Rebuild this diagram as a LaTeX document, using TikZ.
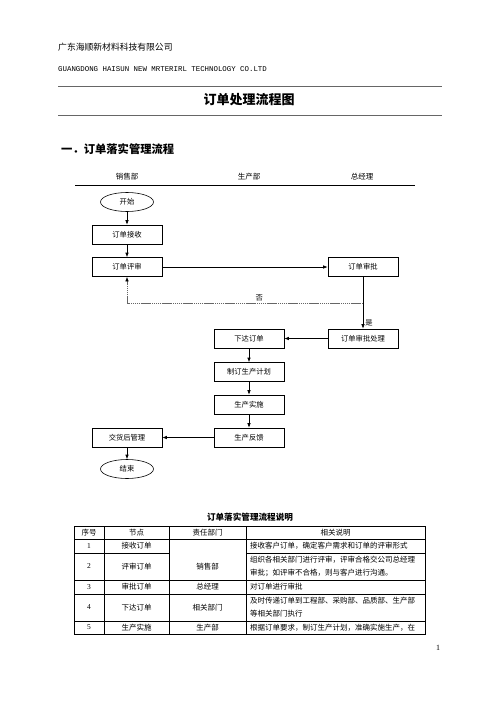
\documentclass[tikz,border=0pt]{standalone}
\usepackage{fontspec}
\setmainfont{Noto Sans CJK SC}
\newfontfamily\serifnum{Liberation Serif}
\newfontfamily\monolatin{Liberation Mono}
\usepackage{tikz}
\usetikzlibrary{arrows.meta,shapes.geometric}
\tikzset{
  box/.style={draw, line width=0.6pt, minimum width=70pt, minimum height=19pt,
    inner sep=0pt, font=\fontsize{7.3}{8}\selectfont},
  term/.style={draw, ellipse, line width=0.6pt, minimum width=53pt,
    minimum height=19pt, inner sep=0pt, font=\fontsize{7.3}{8}\selectfont},
  flow/.style={-{Latex[length=4.5pt,width=3.5pt]}, line width=0.6pt},
  backflow/.style={-{Latex[length=4.5pt,width=3.5pt,black]}, line width=0.6pt,
    black!60, dash pattern=on 1.5pt off 0.6pt},
  cell/.style={inner sep=0pt, font=\fontsize{7.5}{13}\selectfont}
}

\begin{document}
\begin{tikzpicture}[x=1pt,y=-1pt]
    \fill[white] (0,0) rectangle (500,707);
    \useasboundingbox (0,0) rectangle (500,707);

    %page header
    \node[anchor=west, inner sep=0pt, font=\fontsize{8.8}{10}\selectfont] (company) at (58,47) {广东海顺新材料科技有限公司};
    \node[anchor=west, inner sep=0pt, font=\monolatin\fontsize{7.4}{9}\selectfont] (companyen) at (58,69) {GUANGDONG HAISUN NEW MRTERIRL TECHNOLOGY CO.LTD};
    \draw[line width=0.8pt, black!60] (58,86) -- (442,86);
    \node[font=\bfseries\fontsize{13}{15}\selectfont] (title) at (249,100) {订单处理流程图};
    \draw[line width=0.8pt, black!60] (58,115) -- (442,115);

    %section heading
    \node[anchor=west, inner sep=0pt, font=\bfseries\fontsize{11.3}{13}\selectfont] (section) at (61,149) {一．订单落实管理流程};

    %lane headers
    \node[cell] (lanesales) at (127,177) {销售部};
    \node[cell] (laneprod) at (249,177) {生产部};
    \node[cell] (lanegm) at (362,177) {总经理};
    \draw[line width=0.6pt] (75,185) -- (415,185);

    %flow chart nodes
    \node[term] (start) at (127,202) {开始};
    \node[box] (receive) at (127,234.5) {订单接收};
    \node[box] (review) at (127,267) {订单评审};
    \node[box] (approve) at (363,267) {订单审批};
    \node[box] (approved) at (363,338.5) {订单审批处理};
    \node[box] (issue) at (249,338.5) {下达订单};
    \node[box] (plan) at (249,372) {制订生产计划};
    \node[box] (produce) at (249,404.5) {生产实施};
    \node[box] (feedback) at (249,437.5) {生产反馈};
    \node[box] (delivery) at (127,437.5) {交货后管理};
    \node[term] (finish) at (127,469) {结束};
    \coordinate (fork) at (363,303);

    %flow chart arrows
    \draw[flow] (start) -- (receive);
    \draw[flow] (receive) -- (review);
    \draw[flow] (review) -- (approve);
    \draw[flow] (approve) -- node[pos=0.88, right, inner sep=2pt, font=\fontsize{7.3}{8}\selectfont] {是} (approved);
    \draw[backflow] (fork) -| node[pos=0.22, above, inner sep=2pt, font=\fontsize{7.3}{8}\selectfont, text=black] {否} (review);
    \draw[flow] (approved) -- (issue);
    \draw[flow] (issue) -- (plan);
    \draw[flow] (plan) -- (produce);
    \draw[flow] (produce) -- (feedback);
    \draw[flow] (feedback) -- (delivery);
    \draw[flow] (delivery) -- (finish);

    %table
    \node[font=\bfseries\fontsize{8.6}{10}\selectfont] (tabletitle) at (250,517) {订单落实管理流程说明};
    \draw[line width=0.8pt] (74,526) rectangle (425,634);
    \foreach \x in {104,169,246}
        \draw[line width=0.5pt] (\x,526) -- (\x,634);
    \foreach \y in {539,580,594,621}
        \draw[line width=0.5pt] (74,\y) -- (425,\y);
    \draw[line width=0.5pt] (74,553) -- (169,553);
    \draw[line width=0.5pt] (246,553) -- (425,553);

    %table header
    \node[cell] (hnum) at (89,532.5) {序号};
    \node[cell] (hstep) at (136.5,532.5) {节点};
    \node[cell] (hdept) at (207.5,532.5) {责任部门};
    \node[cell] (hnote) at (335.5,532.5) {相关说明};

    %table rows
    \foreach \n/\y/\stage in {1/546/接收订单, 2/566.5/评审订单, 3/587/审批订单, 4/607.5/下达订单, 5/627.5/生产实施}{
        \node[cell, font=\serifnum\fontsize{7.5}{9}\selectfont] (num\n) at (89,\y) {\n};
        \node[cell] (stage\n) at (136.5,\y) {\stage};
    }
    \node[cell] (dept12) at (207.5,566.5) {销售部};
    \node[cell] (dept3) at (207.5,587) {总经理};
    \node[cell] (dept4) at (207.5,607.5) {相关部门};
    \node[cell] (dept5) at (207.5,627.5) {生产部};

    \node[cell, anchor=west] (note1) at (250,546) {接收客户订单，确定客户需求和订单的评审形式};
    \node[cell, anchor=west, align=left] (note2) at (250,566.5) {组织各相关部门进行评审，评审合格交公司总经理\\审批；如评审不合格，则与客户进行沟通。};
    \node[cell, anchor=west] (note3) at (250,587) {对订单进行审批};
    \node[cell, anchor=west, align=left] (note4) at (250,607.5) {及时传递订单到工程部、采购部、品质部、生产部\\等相关部门执行};
    \node[cell, anchor=west] (note5) at (250,627.5) {根据订单要求，制订生产计划，准确实施生产，在};

    %page number
    \node[font=\serifnum\fontsize{8}{9}\selectfont] (pagenum) at (438,648) {1};
\end{tikzpicture}
\end{document}
